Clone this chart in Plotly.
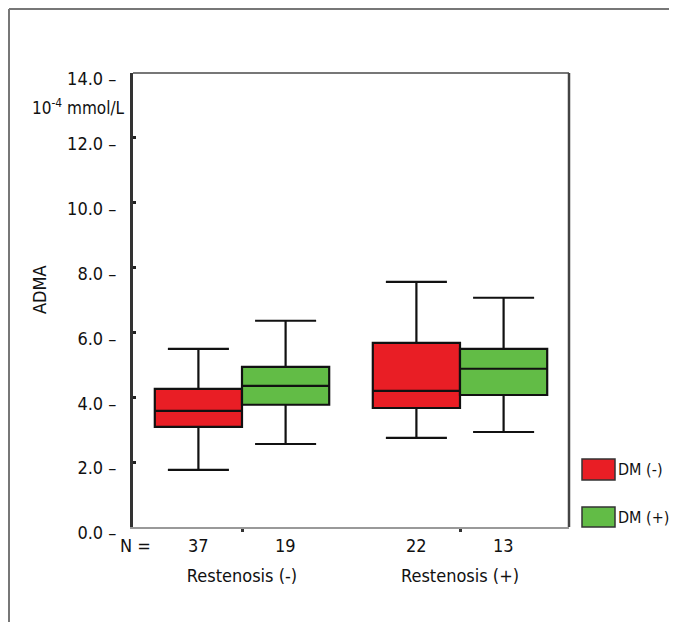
import plotly.graph_objects as go

categories = ["Restenosis (-)", "Restenosis (+)"]
groups = ["DM (-)", "DM (+)"]
colors = ["#E91E25", "#62BC46"]
# values per group, one per category
lowerfence = {"DM (-)": [1.76, 2.75], "DM (+)": [2.56, 2.93]}
q1 = {"DM (-)": [3.09, 3.67], "DM (+)": [3.77, 4.07]}
median = {"DM (-)": [3.58, 4.20], "DM (+)": [4.35, 4.88]}
q3 = {"DM (-)": [4.26, 5.68], "DM (+)": [4.94, 5.49]}
upperfence = {"DM (-)": [5.49, 7.56], "DM (+)": [6.36, 7.07]}
n_counts = {"DM (-)": [37, 22], "DM (+)": [19, 13]}
y_ticks = [0, 2, 4, 6, 8, 10, 12, 14]

FONT = "DejaVu Sans Condensed, Liberation Sans Narrow, sans-serif"

fig = go.Figure()
for g, c in zip(groups, colors):
    fig.add_trace(go.Box(
        name=g, x=categories,
        q1=q1[g], median=median[g], q3=q3[g],
        lowerfence=lowerfence[g], upperfence=upperfence[g],
        fillcolor=c, line=dict(color="#111111", width=2.2),
        whiskerwidth=0.7, boxpoints=False, showlegend=False,
    ))

# page has an 8px body margin; figure coordinates = reference - 8
OFF = 8
W, H = 677 - OFF, 638 - 3 * OFF
L, T = 133 - OFF, 73 - OFF
R, B = W - (569 - OFF), H - (527 - OFF)
pw, ph = W - L - R, H - T - B

def px(rx):
    return (rx - OFF - L) / pw

def py(ry):
    return (H - B - (ry - OFF)) / ph

fig.update_layout(
    width=W, height=H,
    margin=dict(l=L, r=R, t=T, b=B),
    paper_bgcolor="white", plot_bgcolor="white",
    boxmode="group", boxgap=0.2, boxgroupgap=0,
    font=dict(family=FONT, size=18, color="#111111"),
)
fig.update_yaxes(
    range=[0, 14], tickvals=y_ticks,
    ticktext=[f"{v:.1f} \u2013" for v in y_ticks],
    showgrid=False, zeroline=False,
    showline=True, linecolor="#333333", linewidth=3,
    ticks="inside", ticklen=3, tickwidth=3, tickcolor="#222222",
    ticklabelstandoff=10, ticklabelshift=6,
    tickfont=dict(size=18),
)
fig.update_xaxes(
    range=[-0.5, 1.5],
    showgrid=False, zeroline=False,
    showline=True, linecolor="#999999", linewidth=2,
    ticks="outside", ticklen=3, tickwidth=3, tickcolor="#333333",
    ticklabelstandoff=28,
    tickfont=dict(size=18),
)

shapes = []
# outer frame (top and left)
shapes.append(dict(type="line", xref="paper", yref="paper", x0=px(9), x1=px(680), y0=py(9), y1=py(9),
                   line=dict(color="#777777", width=2)))
shapes.append(dict(type="line", xref="paper", yref="paper", x0=px(9), x1=px(9), y0=py(9), y1=py(645),
                   line=dict(color="#777777", width=2)))
# plot frame top and right
shapes.append(dict(type="line", xref="paper", yref="paper", x0=0, x1=1, y0=1, y1=1,
                   line=dict(color="#777777", width=2)))
shapes.append(dict(type="line", xref="paper", yref="paper", x0=1, x1=1, y0=0, y1=1,
                   line=dict(color="#444444", width=2.5)))
# legend swatches
sw = [(459, 480), (507, 527)]
for (y0, y1), c in zip(sw, colors):
    shapes.append(dict(type="rect", xref="paper", yref="paper", x0=px(582), x1=px(615),
                       y0=py(y1), y1=py(y0), fillcolor=c, line=dict(color="#333333", width=1.5)))
fig.update_layout(shapes=shapes)

ann = []
# legend text
for (y0, y1), g in zip(sw, groups):
    ann.append(dict(xref="paper", yref="paper", x=px(616), y=py((y0 + y1) / 2), text=g,
                    showarrow=False, xanchor="left", yanchor="middle",
                    font=dict(family="DejaVu Sans Condensed, DejaVu Sans, sans-serif", size=16)))
# N labels
ann.append(dict(xref="paper", yref="paper", x=px(135), y=py(545), text="N =", showarrow=False,
                xanchor="center", yanchor="middle"))
offsets = [-0.2, 0.2]
for gi, g in enumerate(groups):
    for ci, _ in enumerate(categories):
        ann.append(dict(xref="x", yref="paper", x=ci + offsets[gi], y=py(545),
                        text=str(n_counts[g][ci]), showarrow=False, xanchor="center", yanchor="middle"))
# unit and axis title
ann.append(dict(xref="paper", yref="paper", x=px(127), y=py(107),
                text="10<sup>-4</sup> mmol/L", showarrow=False, xanchor="right", yanchor="middle",
                font=dict(size=17)))
ann.append(dict(xref="paper", yref="paper", x=px(39), y=py(290), text="ADMA", textangle=-90,
                showarrow=False, xanchor="center", yanchor="middle"))
fig.update_layout(annotations=ann)

fig.write_html("out.html",
               post_script="document.documentElement.style.overflow='hidden';"
                           "document.body.style.overflow='hidden';")
